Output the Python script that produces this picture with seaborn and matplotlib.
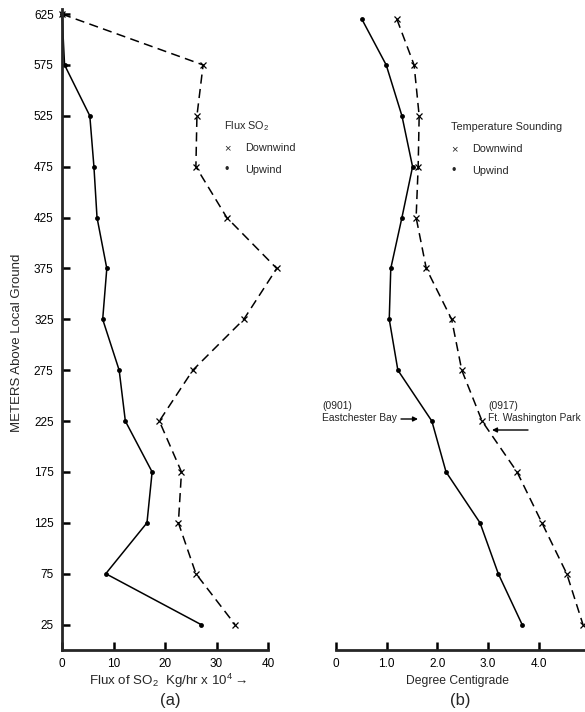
import matplotlib
matplotlib.use("Agg")
import matplotlib.pyplot as plt
import seaborn as sns
import pandas as pd

# Sounding heights (m above local ground)
heights = [625, 575, 525, 475, 425, 375, 325, 275, 225, 175, 125, 75, 25]
temp_heights = [620, 575, 525, 475, 425, 375, 325, 275, 225, 175, 125, 75, 25]

# SO2 flux, Kg/hr x 10^4
flux_downwind = [0.0, 27.4, 26.2, 26.0, 32.0, 41.7, 35.3, 25.4, 18.9, 23.2, 22.6, 26.0, 33.6]
flux_upwind = [0.0, 0.5, 5.4, 6.2, 6.8, 8.7, 7.9, 11.1, 12.3, 17.5, 16.5, 8.5, 27.0]

# Temperature soundings, degree centigrade
temp_downwind = [1.20, 1.54, 1.64, 1.62, 1.58, 1.78, 2.28, 2.48, 2.88, 3.57, 4.06, 4.55, 4.87]
temp_upwind = [0.51, 0.99, 1.30, 1.51, 1.30, 1.08, 1.05, 1.22, 1.89, 2.17, 2.84, 3.20, 3.67]

y_ticks = [25, 75, 125, 175, 225, 275, 325, 375, 425, 475, 525, 575, 625]
flux_ticks = [0, 10, 20, 30, 40]
temp_ticks = [0, 1, 2, 3, 4]
temp_labels = ["0", "1.0", "2.0", "3.0", "4.0"]

sns.set_style("ticks")
plt.rcParams["font.family"] = ["Liberation Sans", "DejaVu Sans"]
plt.rcParams["mathtext.fontset"] = "custom"
plt.rcParams["mathtext.rm"] = "Liberation Sans"

W, H = 585, 712
fig = plt.figure(figsize=(W / 100, H / 100), dpi=100)


def box(x0, x1, ytop, ybot):
    return [x0 / W, 1 - ybot / H, (x1 - x0) / W, (ybot - ytop) / H]


def fxy(x, y):
    return (x / W, 1 - y / H)


ax_a = fig.add_axes(box(62, 268, 9, 650))
ax_b = fig.add_axes(box(336, 585, 9, 650))

flux_df = pd.DataFrame({"height": heights, "down": flux_downwind, "up": flux_upwind})
temp_df = pd.DataFrame({"height": temp_heights, "down": temp_downwind, "up": temp_upwind})

dash = (0, (6, 3.5))
for ax, df in ((ax_a, flux_df), (ax_b, temp_df)):
    sns.lineplot(data=df, x="up", y="height", sort=False, estimator=None, ax=ax,
                 color="black", lw=1.1, marker="o", markersize=3.5,
                 markeredgewidth=0, markerfacecolor="black", clip_on=False)
    sns.lineplot(data=df, x="down", y="height", sort=False, estimator=None, ax=ax,
                 color="black", lw=1.1, linestyle=dash, marker="x",
                 markersize=5, markeredgewidth=0.9, markeredgecolor="black",
                 clip_on=False)
    ax.set_ylim(0, 630)
    ax.set_xlabel("")
    ax.set_ylabel("")
    for side in ("top", "right"):
        ax.spines[side].set_visible(False)
    ax.spines["bottom"].set_linewidth(2)
    ax.spines["left"].set_linewidth(2)
    ax.tick_params(direction="in", length=6, width=1.8, labelsize=8.5,
                   colors="black", pad=6)

ax_a.set_xlim(0, 40)
ax_a.set_xticks(flux_ticks)
ax_a.set_yticks(y_ticks)
ax_a.set_ylabel("METERS Above Local Ground", fontsize=9.5)
ax_a.yaxis.set_label_coords(-0.19, 0.479)

ax_b.set_xlim(0, 4.91)
ax_b.set_xticks(temp_ticks)
ax_b.set_xticklabels(temp_labels)
ax_b.set_yticks([])
ax_b.spines["left"].set_visible(False)

# Axis captions
fig.text(*fxy(168, 681), r"Flux of SO$_2$  Kg/hr x 10$^4$$\rightarrow$",
         ha="center", va="center", fontsize=9.6)
fig.text(*fxy(170, 700), "(a)", ha="center", va="center", fontsize=12)
fig.text(*fxy(458, 681), "Degree Centigrade", ha="center", va="center", fontsize=8.7)
fig.text(*fxy(460, 700), "(b)", ha="center", va="center", fontsize=12)


# Legends
def legend(x, y, title, xtext):
    fig.text(*fxy(x, y), title, ha="left", va="center", fontsize=7.8)
    fig.text(*fxy(x, y + 22), "×", ha="left", va="center", fontsize=8)
    fig.text(*fxy(xtext, y + 22), "Downwind", ha="left", va="center", fontsize=7.8)
    fig.text(*fxy(x + 0.5, y + 44), "•", ha="left", va="center", fontsize=9)
    fig.text(*fxy(xtext, y + 44), "Upwind", ha="left", va="center", fontsize=7.8)


legend(224, 126, r"Flux SO$_2$", 245)
legend(451, 127, "Temperature Sounding", 472)

# Station annotations
fig.text(*fxy(322, 412), "(0901)\nEastchester Bay", ha="left", va="center",
         fontsize=7.4, linespacing=1.3)
fig.text(*fxy(488, 412), "(0917)\nFt. Washington Park", ha="left", va="center",
         fontsize=7.4, linespacing=1.3)
arrow = dict(arrowstyle="-|>", color="black", lw=1, mutation_scale=7,
             shrinkA=0, shrinkB=0)
fig.add_artist(matplotlib.patches.FancyArrowPatch(
    fxy(401, 419), fxy(418, 419), transform=fig.transFigure, **arrow))
fig.add_artist(matplotlib.patches.FancyArrowPatch(
    fxy(528, 430), fxy(492, 430), transform=fig.transFigure, **arrow))

fig.savefig("out.png", dpi=100, facecolor="white")
